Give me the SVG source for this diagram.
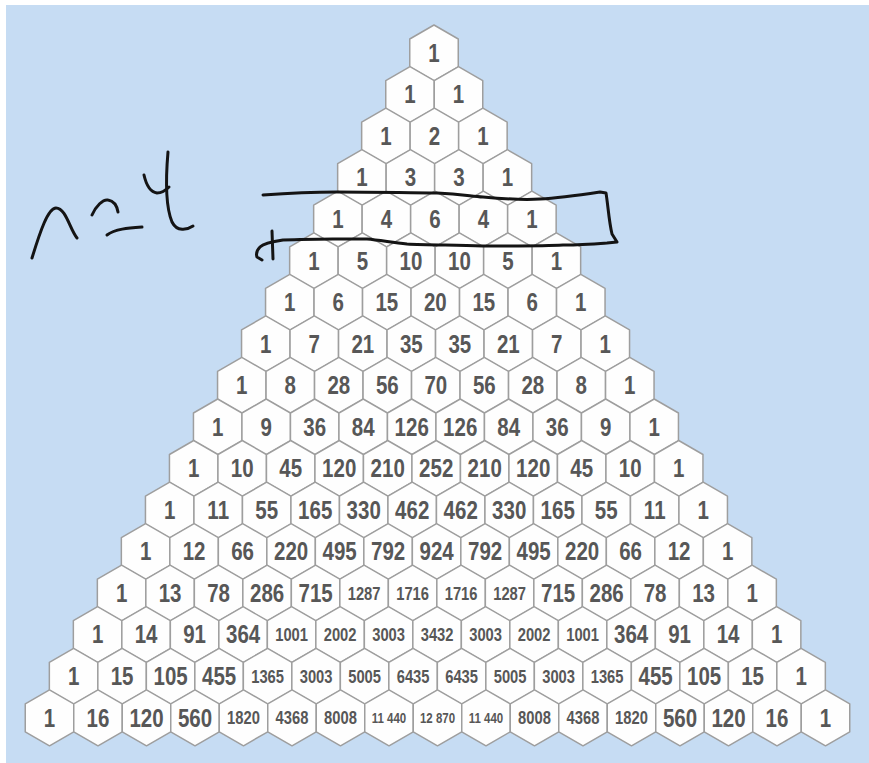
<svg xmlns="http://www.w3.org/2000/svg" xmlns:xlink="http://www.w3.org/1999/xlink" width="869" height="763" viewBox="0 0 869 763">
<style>
.hx{fill:#fefefe;stroke:#9e9e9e;stroke-width:1.5;stroke-linejoin:round}
text{font-family:"Liberation Sans",Arial,sans-serif;font-weight:bold;fill:#575757;text-anchor:middle;dominant-baseline:central;transform:scaleX(0.82)}
.b{font-size:25px}
.m{font-size:18px}
.s{font-size:14px}
.ink{fill:none;stroke:#141414;stroke-width:3;stroke-linecap:round;stroke-linejoin:round}
</style>
<defs>
<polygon id="h" class="hx" points="0,-28 24.25,-14 24.25,14 0,28 -24.25,14 -24.25,-14"/>
</defs>
<rect x="0" y="0" width="869" height="763" fill="#ffffff"/>
<rect x="6" y="5" width="863" height="758" fill="#c6dcf3"/>
<g id="nodes">
<g id="r0k0" transform="translate(434,53)"><use href="#h"/><text class="b">1</text></g>
<g id="r1k0" transform="translate(410,94.6)"><use href="#h"/><text class="b">1</text></g>
<g id="r1k1" transform="translate(458.5,94.6)"><use href="#h"/><text class="b">1</text></g>
<g id="r2k0" transform="translate(385.9,136.1)"><use href="#h"/><text class="b">1</text></g>
<g id="r2k1" transform="translate(434.4,136.1)"><use href="#h"/><text class="b">2</text></g>
<g id="r2k2" transform="translate(482.9,136.1)"><use href="#h"/><text class="b">1</text></g>
<g id="r3k0" transform="translate(361.9,177.7)"><use href="#h"/><text class="b">1</text></g>
<g id="r3k1" transform="translate(410.4,177.7)"><use href="#h"/><text class="b">3</text></g>
<g id="r3k2" transform="translate(458.9,177.7)"><use href="#h"/><text class="b">3</text></g>
<g id="r3k3" transform="translate(507.4,177.7)"><use href="#h"/><text class="b">1</text></g>
<g id="r4k0" transform="translate(337.9,219.2)"><use href="#h"/><text class="b">1</text></g>
<g id="r4k1" transform="translate(386.4,219.2)"><use href="#h"/><text class="b">4</text></g>
<g id="r4k2" transform="translate(434.9,219.2)"><use href="#h"/><text class="b">6</text></g>
<g id="r4k3" transform="translate(483.4,219.2)"><use href="#h"/><text class="b">4</text></g>
<g id="r4k4" transform="translate(531.9,219.2)"><use href="#h"/><text class="b">1</text></g>
<g id="r5k0" transform="translate(313.9,260.8)"><use href="#h"/><text class="b">1</text></g>
<g id="r5k1" transform="translate(362.4,260.8)"><use href="#h"/><text class="b">5</text></g>
<g id="r5k2" transform="translate(410.9,260.8)"><use href="#h"/><text class="b">10</text></g>
<g id="r5k3" transform="translate(459.4,260.8)"><use href="#h"/><text class="b">10</text></g>
<g id="r5k4" transform="translate(507.9,260.8)"><use href="#h"/><text class="b">5</text></g>
<g id="r5k5" transform="translate(556.4,260.8)"><use href="#h"/><text class="b">1</text></g>
<g id="r6k0" transform="translate(289.8,302.3)"><use href="#h"/><text class="b">1</text></g>
<g id="r6k1" transform="translate(338.3,302.3)"><use href="#h"/><text class="b">6</text></g>
<g id="r6k2" transform="translate(386.8,302.3)"><use href="#h"/><text class="b">15</text></g>
<g id="r6k3" transform="translate(435.3,302.3)"><use href="#h"/><text class="b">20</text></g>
<g id="r6k4" transform="translate(483.8,302.3)"><use href="#h"/><text class="b">15</text></g>
<g id="r6k5" transform="translate(532.3,302.3)"><use href="#h"/><text class="b">6</text></g>
<g id="r6k6" transform="translate(580.8,302.3)"><use href="#h"/><text class="b">1</text></g>
<g id="r7k0" transform="translate(265.8,343.9)"><use href="#h"/><text class="b">1</text></g>
<g id="r7k1" transform="translate(314.3,343.9)"><use href="#h"/><text class="b">7</text></g>
<g id="r7k2" transform="translate(362.8,343.9)"><use href="#h"/><text class="b">21</text></g>
<g id="r7k3" transform="translate(411.3,343.9)"><use href="#h"/><text class="b">35</text></g>
<g id="r7k4" transform="translate(459.8,343.9)"><use href="#h"/><text class="b">35</text></g>
<g id="r7k5" transform="translate(508.3,343.9)"><use href="#h"/><text class="b">21</text></g>
<g id="r7k6" transform="translate(556.8,343.9)"><use href="#h"/><text class="b">7</text></g>
<g id="r7k7" transform="translate(605.3,343.9)"><use href="#h"/><text class="b">1</text></g>
<g id="r8k0" transform="translate(241.8,385.4)"><use href="#h"/><text class="b">1</text></g>
<g id="r8k1" transform="translate(290.3,385.4)"><use href="#h"/><text class="b">8</text></g>
<g id="r8k2" transform="translate(338.8,385.4)"><use href="#h"/><text class="b">28</text></g>
<g id="r8k3" transform="translate(387.3,385.4)"><use href="#h"/><text class="b">56</text></g>
<g id="r8k4" transform="translate(435.8,385.4)"><use href="#h"/><text class="b">70</text></g>
<g id="r8k5" transform="translate(484.3,385.4)"><use href="#h"/><text class="b">56</text></g>
<g id="r8k6" transform="translate(532.8,385.4)"><use href="#h"/><text class="b">28</text></g>
<g id="r8k7" transform="translate(581.3,385.4)"><use href="#h"/><text class="b">8</text></g>
<g id="r8k8" transform="translate(629.8,385.4)"><use href="#h"/><text class="b">1</text></g>
<g id="r9k0" transform="translate(217.7,427)"><use href="#h"/><text class="b">1</text></g>
<g id="r9k1" transform="translate(266.2,427)"><use href="#h"/><text class="b">9</text></g>
<g id="r9k2" transform="translate(314.7,427)"><use href="#h"/><text class="b">36</text></g>
<g id="r9k3" transform="translate(363.2,427)"><use href="#h"/><text class="b">84</text></g>
<g id="r9k4" transform="translate(411.7,427)"><use href="#h"/><text class="b">126</text></g>
<g id="r9k5" transform="translate(460.2,427)"><use href="#h"/><text class="b">126</text></g>
<g id="r9k6" transform="translate(508.7,427)"><use href="#h"/><text class="b">84</text></g>
<g id="r9k7" transform="translate(557.2,427)"><use href="#h"/><text class="b">36</text></g>
<g id="r9k8" transform="translate(605.7,427)"><use href="#h"/><text class="b">9</text></g>
<g id="r9k9" transform="translate(654.2,427)"><use href="#h"/><text class="b">1</text></g>
<g id="r10k0" transform="translate(193.7,468.5)"><use href="#h"/><text class="b">1</text></g>
<g id="r10k1" transform="translate(242.2,468.5)"><use href="#h"/><text class="b">10</text></g>
<g id="r10k2" transform="translate(290.7,468.5)"><use href="#h"/><text class="b">45</text></g>
<g id="r10k3" transform="translate(339.2,468.5)"><use href="#h"/><text class="b">120</text></g>
<g id="r10k4" transform="translate(387.7,468.5)"><use href="#h"/><text class="b">210</text></g>
<g id="r10k5" transform="translate(436.2,468.5)"><use href="#h"/><text class="b">252</text></g>
<g id="r10k6" transform="translate(484.7,468.5)"><use href="#h"/><text class="b">210</text></g>
<g id="r10k7" transform="translate(533.2,468.5)"><use href="#h"/><text class="b">120</text></g>
<g id="r10k8" transform="translate(581.7,468.5)"><use href="#h"/><text class="b">45</text></g>
<g id="r10k9" transform="translate(630.2,468.5)"><use href="#h"/><text class="b">10</text></g>
<g id="r10k10" transform="translate(678.7,468.5)"><use href="#h"/><text class="b">1</text></g>
<g id="r11k0" transform="translate(169.7,510.1)"><use href="#h"/><text class="b">1</text></g>
<g id="r11k1" transform="translate(218.2,510.1)"><use href="#h"/><text class="b">11</text></g>
<g id="r11k2" transform="translate(266.7,510.1)"><use href="#h"/><text class="b">55</text></g>
<g id="r11k3" transform="translate(315.2,510.1)"><use href="#h"/><text class="b">165</text></g>
<g id="r11k4" transform="translate(363.7,510.1)"><use href="#h"/><text class="b">330</text></g>
<g id="r11k5" transform="translate(412.2,510.1)"><use href="#h"/><text class="b">462</text></g>
<g id="r11k6" transform="translate(460.7,510.1)"><use href="#h"/><text class="b">462</text></g>
<g id="r11k7" transform="translate(509.2,510.1)"><use href="#h"/><text class="b">330</text></g>
<g id="r11k8" transform="translate(557.7,510.1)"><use href="#h"/><text class="b">165</text></g>
<g id="r11k9" transform="translate(606.2,510.1)"><use href="#h"/><text class="b">55</text></g>
<g id="r11k10" transform="translate(654.7,510.1)"><use href="#h"/><text class="b">11</text></g>
<g id="r11k11" transform="translate(703.2,510.1)"><use href="#h"/><text class="b">1</text></g>
<g id="r12k0" transform="translate(145.6,551.6)"><use href="#h"/><text class="b">1</text></g>
<g id="r12k1" transform="translate(194.1,551.6)"><use href="#h"/><text class="b">12</text></g>
<g id="r12k2" transform="translate(242.6,551.6)"><use href="#h"/><text class="b">66</text></g>
<g id="r12k3" transform="translate(291.1,551.6)"><use href="#h"/><text class="b">220</text></g>
<g id="r12k4" transform="translate(339.6,551.6)"><use href="#h"/><text class="b">495</text></g>
<g id="r12k5" transform="translate(388.1,551.6)"><use href="#h"/><text class="b">792</text></g>
<g id="r12k6" transform="translate(436.6,551.6)"><use href="#h"/><text class="b">924</text></g>
<g id="r12k7" transform="translate(485.1,551.6)"><use href="#h"/><text class="b">792</text></g>
<g id="r12k8" transform="translate(533.6,551.6)"><use href="#h"/><text class="b">495</text></g>
<g id="r12k9" transform="translate(582.1,551.6)"><use href="#h"/><text class="b">220</text></g>
<g id="r12k10" transform="translate(630.6,551.6)"><use href="#h"/><text class="b">66</text></g>
<g id="r12k11" transform="translate(679.1,551.6)"><use href="#h"/><text class="b">12</text></g>
<g id="r12k12" transform="translate(727.6,551.6)"><use href="#h"/><text class="b">1</text></g>
<g id="r13k0" transform="translate(121.6,593.2)"><use href="#h"/><text class="b">1</text></g>
<g id="r13k1" transform="translate(170.1,593.2)"><use href="#h"/><text class="b">13</text></g>
<g id="r13k2" transform="translate(218.6,593.2)"><use href="#h"/><text class="b">78</text></g>
<g id="r13k3" transform="translate(267.1,593.2)"><use href="#h"/><text class="b">286</text></g>
<g id="r13k4" transform="translate(315.6,593.2)"><use href="#h"/><text class="b">715</text></g>
<g id="r13k5" transform="translate(364.1,593.2)"><use href="#h"/><text class="m">1287</text></g>
<g id="r13k6" transform="translate(412.6,593.2)"><use href="#h"/><text class="m">1716</text></g>
<g id="r13k7" transform="translate(461.1,593.2)"><use href="#h"/><text class="m">1716</text></g>
<g id="r13k8" transform="translate(509.6,593.2)"><use href="#h"/><text class="m">1287</text></g>
<g id="r13k9" transform="translate(558.1,593.2)"><use href="#h"/><text class="b">715</text></g>
<g id="r13k10" transform="translate(606.6,593.2)"><use href="#h"/><text class="b">286</text></g>
<g id="r13k11" transform="translate(655.1,593.2)"><use href="#h"/><text class="b">78</text></g>
<g id="r13k12" transform="translate(703.6,593.2)"><use href="#h"/><text class="b">13</text></g>
<g id="r13k13" transform="translate(752.1,593.2)"><use href="#h"/><text class="b">1</text></g>
<g id="r14k0" transform="translate(97.6,634.7)"><use href="#h"/><text class="b">1</text></g>
<g id="r14k1" transform="translate(146.1,634.7)"><use href="#h"/><text class="b">14</text></g>
<g id="r14k2" transform="translate(194.6,634.7)"><use href="#h"/><text class="b">91</text></g>
<g id="r14k3" transform="translate(243.1,634.7)"><use href="#h"/><text class="b">364</text></g>
<g id="r14k4" transform="translate(291.6,634.7)"><use href="#h"/><text class="m">1001</text></g>
<g id="r14k5" transform="translate(340.1,634.7)"><use href="#h"/><text class="m">2002</text></g>
<g id="r14k6" transform="translate(388.6,634.7)"><use href="#h"/><text class="m">3003</text></g>
<g id="r14k7" transform="translate(437.1,634.7)"><use href="#h"/><text class="m">3432</text></g>
<g id="r14k8" transform="translate(485.6,634.7)"><use href="#h"/><text class="m">3003</text></g>
<g id="r14k9" transform="translate(534.1,634.7)"><use href="#h"/><text class="m">2002</text></g>
<g id="r14k10" transform="translate(582.6,634.7)"><use href="#h"/><text class="m">1001</text></g>
<g id="r14k11" transform="translate(631.1,634.7)"><use href="#h"/><text class="b">364</text></g>
<g id="r14k12" transform="translate(679.6,634.7)"><use href="#h"/><text class="b">91</text></g>
<g id="r14k13" transform="translate(728.1,634.7)"><use href="#h"/><text class="b">14</text></g>
<g id="r14k14" transform="translate(776.6,634.7)"><use href="#h"/><text class="b">1</text></g>
<g id="r15k0" transform="translate(73.6,676.3)"><use href="#h"/><text class="b">1</text></g>
<g id="r15k1" transform="translate(122.1,676.3)"><use href="#h"/><text class="b">15</text></g>
<g id="r15k2" transform="translate(170.6,676.3)"><use href="#h"/><text class="b">105</text></g>
<g id="r15k3" transform="translate(219.1,676.3)"><use href="#h"/><text class="b">455</text></g>
<g id="r15k4" transform="translate(267.6,676.3)"><use href="#h"/><text class="m">1365</text></g>
<g id="r15k5" transform="translate(316.1,676.3)"><use href="#h"/><text class="m">3003</text></g>
<g id="r15k6" transform="translate(364.6,676.3)"><use href="#h"/><text class="m">5005</text></g>
<g id="r15k7" transform="translate(413.1,676.3)"><use href="#h"/><text class="m">6435</text></g>
<g id="r15k8" transform="translate(461.6,676.3)"><use href="#h"/><text class="m">6435</text></g>
<g id="r15k9" transform="translate(510.1,676.3)"><use href="#h"/><text class="m">5005</text></g>
<g id="r15k10" transform="translate(558.6,676.3)"><use href="#h"/><text class="m">3003</text></g>
<g id="r15k11" transform="translate(607.1,676.3)"><use href="#h"/><text class="m">1365</text></g>
<g id="r15k12" transform="translate(655.6,676.3)"><use href="#h"/><text class="b">455</text></g>
<g id="r15k13" transform="translate(704.1,676.3)"><use href="#h"/><text class="b">105</text></g>
<g id="r15k14" transform="translate(752.6,676.3)"><use href="#h"/><text class="b">15</text></g>
<g id="r15k15" transform="translate(801.1,676.3)"><use href="#h"/><text class="b">1</text></g>
<g id="r16k0" transform="translate(49.5,717.8)"><use href="#h"/><text class="b">1</text></g>
<g id="r16k1" transform="translate(98,717.8)"><use href="#h"/><text class="b">16</text></g>
<g id="r16k2" transform="translate(146.5,717.8)"><use href="#h"/><text class="b">120</text></g>
<g id="r16k3" transform="translate(195,717.8)"><use href="#h"/><text class="b">560</text></g>
<g id="r16k4" transform="translate(243.5,717.8)"><use href="#h"/><text class="m">1820</text></g>
<g id="r16k5" transform="translate(292,717.8)"><use href="#h"/><text class="m">4368</text></g>
<g id="r16k6" transform="translate(340.5,717.8)"><use href="#h"/><text class="m">8008</text></g>
<g id="r16k7" transform="translate(389,717.8)"><use href="#h"/><text class="s">11 440</text></g>
<g id="r16k8" transform="translate(437.5,717.8)"><use href="#h"/><text class="s">12 870</text></g>
<g id="r16k9" transform="translate(486,717.8)"><use href="#h"/><text class="s">11 440</text></g>
<g id="r16k10" transform="translate(534.5,717.8)"><use href="#h"/><text class="m">8008</text></g>
<g id="r16k11" transform="translate(583,717.8)"><use href="#h"/><text class="m">4368</text></g>
<g id="r16k12" transform="translate(631.5,717.8)"><use href="#h"/><text class="m">1820</text></g>
<g id="r16k13" transform="translate(680,717.8)"><use href="#h"/><text class="b">560</text></g>
<g id="r16k14" transform="translate(728.5,717.8)"><use href="#h"/><text class="b">120</text></g>
<g id="r16k15" transform="translate(777,717.8)"><use href="#h"/><text class="b">16</text></g>
<g id="r16k16" transform="translate(825.5,717.8)"><use href="#h"/><text class="b">1</text></g>
</g>
<g id="connectors"></g>
<g id="annotation">
<path class="ink" d="M32,258 C40,232 48,208 56,208 C66,208 70,230 77,238"/>
<path class="ink" d="M92,215 C96,206 103,199 108,200 C114,201 117,206 118,212"/>
<path class="ink" d="M107,235 C115,229 128,228 142,227"/>
<path class="ink" d="M144,175 C146,184 150,192 157,193 C162,193 166,190 169,187"/>
<path class="ink" d="M168,152 C166,175 165,205 172,222 C177,232 187,230 193,226"/>
<path class="ink" d="M263,195 C290,193 315,192 337,192 C380,192 410,193 437,193 C460,194 470,196 483,197 C505,199 525,200 540,199 C560,198 580,195 600,192 L606,193 C608,205 609,222 612,234 L617,242 L607,243 C590,244 575,245 563,245 C545,246 520,246 483,246 C450,245 425,245 407,244 C390,242 378,240 367,239 C350,239 340,239 333,239 C310,239 295,240 283,240 C270,242 263,244 260,247 C257,250 256,254 257,257 L262,260"/>
<path class="ink" d="M272,231 L273,259"/>
</g>
</svg>
